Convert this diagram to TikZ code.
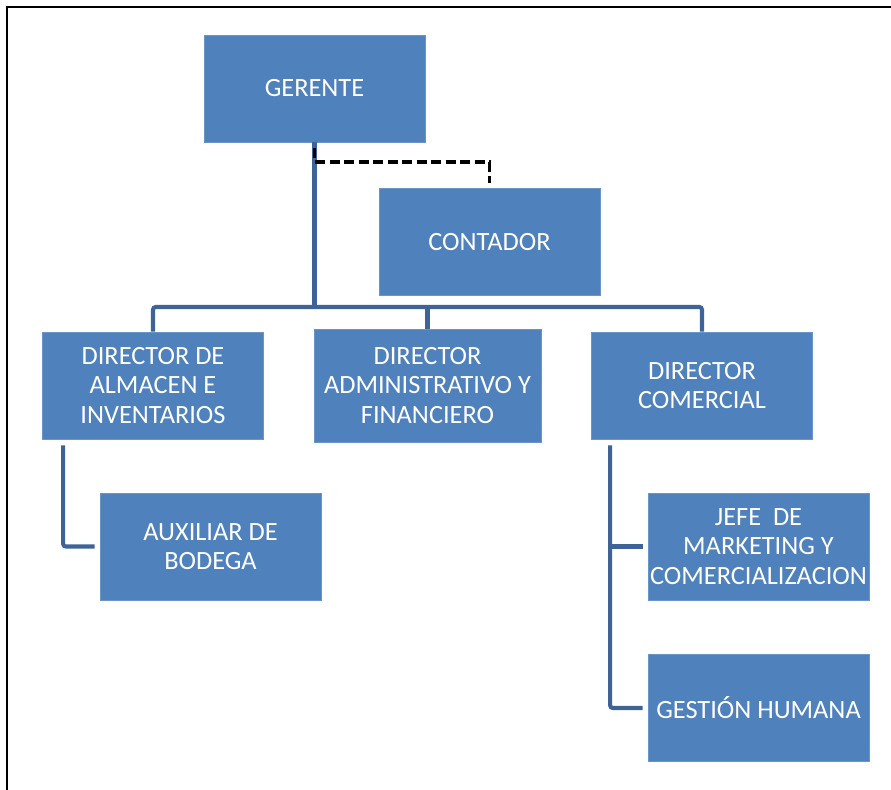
\documentclass[tikz,border=0pt]{standalone}
\usepackage{fontspec}
\setmainfont{Carlito}
\usepackage{tikz}
\usepackage{xcolor}
\usetikzlibrary{positioning, calc}

\definecolor{boxblue}{HTML}{4F81BD}
\definecolor{boxedge}{HTML}{6A95C9}
\definecolor{linkblue}{HTML}{3E6497}

\begin{document}
\begin{tikzpicture}[
    post/.style={draw=boxedge, line width=0.4pt, fill=boxblue, text=white,
        minimum width=4.42cm, minimum height=2.14cm, inner sep=0pt, align=center,
        font=\fontsize{15}{16.6}\selectfont},
    link/.style={draw=linkblue, line width=2.3pt, rounded corners=1.5pt},
    staff/.style={draw=black, line width=2.2pt, dash pattern=on 0.2cm off 0.09cm}
    ]
                % Page and outer frame (only the top and left sides show)
                \useasboundingbox (0,0) rectangle (17.82,-15.78);
                \draw[line width=1.5pt] (0.14,-15.9) -- (0.14,-0.14) -- (17.9,-0.14);

                % Boxes of the chart, placed at coordinates
                \node[post] (ger) at (6.29,-1.77) {GERENTE};
                \node[post] (cont) at (9.79,-4.84) {CONTADOR};
                \node[post] (alm) at (3.06,-7.71) {DIRECTOR DE\\ALMACEN E\\INVENTARIOS};
                \node[post, minimum width=4.54cm, minimum height=2.26cm] (adm) at (8.55,-7.71) {DIRECTOR\\ADMINISTRATIVO Y\\FINANCIERO};
                \node[post] (com) at (14.04,-7.71) {DIRECTOR\\COMERCIAL};
                \node[post] (aux) at (4.21,-10.93) {AUXILIAR DE\\BODEGA};
                \node[post] (jefe) at (15.17,-10.93) {JEFE~~DE\\MARKETING Y\\COMERCIALIZACION};
                \node[post] (gh) at (15.17,-14.16) {GESTIÓN HUMANA};

                % Main bar under the manager
                \coordinate (bar) at (0,-6.14);
                \draw[link] (ger.south) -- (ger.south |- bar);
                \draw[link] (alm.north) |- (com.north |- bar) -- (com.north);
                \draw[link] (adm.north) -- (adm.north |- bar);

                % Staff link to the accountant (dashed, on top of the bar)
                \draw[staff] ([yshift=-0.12cm]ger.south) -- ++(0,-0.28) -| ([yshift=0.1cm]cont.north);

                % Branch under the warehouse director
                \coordinate (almtrunk) at ([xshift=0.42cm,yshift=-0.12cm]alm.south west);
                \draw[link] (almtrunk) |- ([xshift=-0.1cm]aux.west);

                % Branch under the commercial director
                \coordinate (comtrunk) at ([xshift=0.38cm,yshift=-0.12cm]com.south west);
                \draw[link] (comtrunk) |- ([xshift=-0.1cm]gh.west);
                \draw[link] (comtrunk |- jefe.west) -- ([xshift=-0.1cm]jefe.west);
\end{tikzpicture}
\end{document}
